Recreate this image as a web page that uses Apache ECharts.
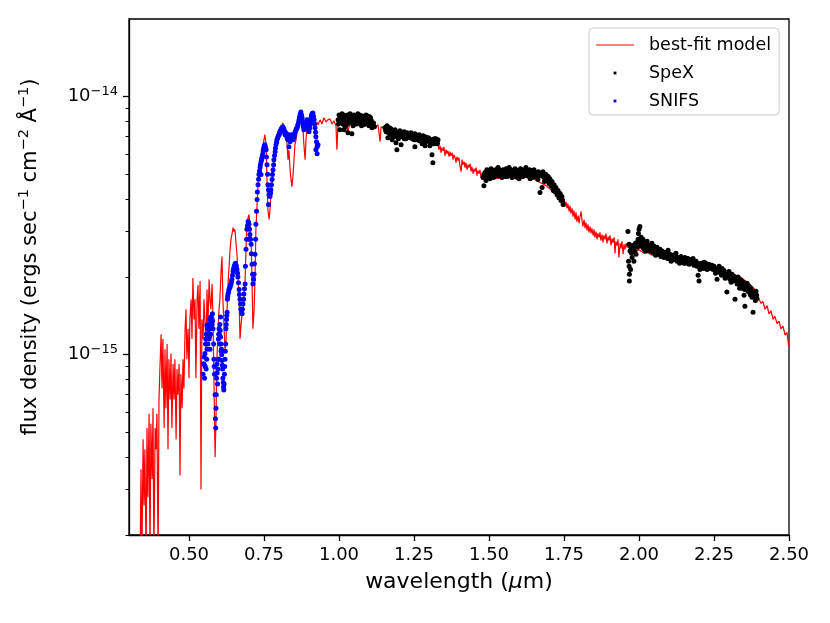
<!DOCTYPE html>
<html style="height: 100%">
<head>
<meta charset="utf-8">
<script src="https://cdn.jsdelivr.net/npm/echarts@6/dist/echarts.min.js"></script>
</head>
<body style="height: 100%; margin: 0; background: #fff">
<div id="container" style="width: 830px; height: 623px"></div>
<script type="text/javascript">
// wavelength (um), flux density in units of 1e-15 ergs/s/cm2/A
var modelData = [
  [0.337,0.16],[0.340,0.36],[0.343,0.16],[0.347,0.47],[0.350,0.26],[0.353,0.43],[0.357,0.16],[0.360,0.52],[0.363,0.28],[0.367,0.59],
  [0.370,0.16],[0.373,0.54],[0.377,0.33],[0.380,0.62],[0.383,0.16],[0.387,0.52],[0.390,0.43],[0.393,0.59],[0.397,0.16],[0.400,0.67],
  [0.403,0.88],[0.407,1.20],[0.410,0.74],[0.413,1.15],[0.417,0.52],[0.420,1.05],[0.423,0.62],[0.427,1.10],[0.430,0.43],[0.433,0.96],
  [0.437,0.67],[0.440,1.01],[0.443,0.52],[0.447,0.92],[0.450,0.67],[0.453,0.96],[0.457,0.47],[0.460,0.88],[0.463,0.70],[0.467,0.92],
  [0.470,0.34],[0.473,0.84],[0.477,0.62],[0.480,0.96],[0.483,0.74],[0.487,1.26],[0.490,1.50],[0.493,0.96],[0.497,1.26],[0.500,0.81],
  [0.503,1.37],[0.507,1.64],[0.510,1.15],[0.513,1.98],[0.517,1.37],[0.520,1.64],[0.523,0.81],[0.527,1.64],[0.530,1.86],[0.533,1.26],
  [0.537,1.93],[0.540,0.30],[0.543,1.37],[0.547,1.15],[0.550,1.64],[0.553,1.37],[0.557,1.05],[0.560,1.79],[0.563,1.26],[0.567,1.96],
  [0.570,1.64],[0.573,1.50],[0.577,1.88],[0.580,1.37],[0.583,0.81],[0.587,0.40],[0.590,0.565],[0.593,0.96],[0.597,1.26],[0.600,1.50],
  [0.603,1.64],[0.607,2.14],[0.610,2.40],[0.613,1.64],[0.617,1.26],[0.620,1.05],[0.623,1.10],[0.627,1.50],[0.630,1.88],[0.633,2.14],
  [0.637,2.56],[0.640,2.80],[0.643,2.92],[0.647,3.11],[0.650,3.00],[0.653,3.06],[0.657,2.68],[0.660,2.45],[0.663,2.05],[0.667,1.64],
  [0.670,1.15],[0.673,1.29],[0.677,1.44],[0.680,1.50],[0.683,1.64],[0.687,1.96],[0.690,2.56],[0.693,3.20],[0.697,3.40],[0.700,3.49],
  [0.703,3.20],[0.707,2.80],[0.710,1.96],[0.713,1.26],[0.717,1.50],[0.720,1.96],[0.723,3.06],[0.727,3.82],[0.730,4.56],[0.733,4.99],
  [0.737,5.31],[0.740,5.70],[0.743,6.12],[0.747,6.51],[0.750,6.81],[0.753,7.12],[0.757,6.51],[0.760,4.77],[0.763,3.65],[0.767,3.34],
  [0.770,3.65],[0.773,4.17],[0.777,4.56],[0.780,4.99],[0.783,5.45],[0.787,5.96],[0.790,6.39],[0.793,6.81],[0.797,7.12],[0.800,6.93],
  [0.803,7.44],[0.807,7.58],[0.810,7.71],[0.813,7.91],[0.817,7.78],[0.820,7.12],[0.823,7.44],[0.827,6.51],[0.830,5.70],[0.833,6.23],
  [0.837,5.21],[0.840,4.77],[0.843,4.48],[0.847,4.99],[0.850,5.70],[0.853,6.51],[0.857,6.81],[0.860,7.31],[0.863,7.58],[0.867,7.78],
  [0.870,8.13],[0.873,8.28],[0.877,7.98],[0.880,7.44],[0.883,6.51],[0.887,5.70],[0.890,6.81],[0.893,7.58],[0.897,7.98],[0.900,7.44],
  [0.903,7.78],[0.907,8.13],[0.910,8.28],[0.913,7.98],[0.917,7.71],[0.920,7.12],[0.923,7.58],[0.927,7.98],[0.930,7.78],[0.937,8.13],
  [0.943,7.84],[0.950,8.28],[0.957,7.98],[0.963,8.13],[0.970,8.20],[0.977,7.84],[0.983,8.06],[0.990,7.71],[0.993,6.23],[0.997,7.98],
  [1.003,8.13],[1.010,7.84],[1.017,7.58],[1.023,8.13],[1.030,7.31],[1.037,7.98],[1.043,8.20],[1.050,7.91],[1.057,7.71],[1.063,8.06],
  [1.070,7.84],[1.077,7.98],[1.083,7.64],[1.090,7.91],[1.097,7.78],[1.103,7.98],[1.110,7.71],[1.117,7.84],[1.123,7.64],[1.130,7.78],
  [1.137,6.69],[1.140,7.64],[1.150,7.58],[1.160,7.44],[1.170,7.38],[1.180,7.51],[1.190,7.31],[1.200,7.24],[1.210,7.38],[1.220,7.12],
  [1.230,7.24],[1.240,7.05],[1.250,7.12],[1.260,6.99],[1.270,6.93],[1.280,6.99],[1.290,6.87],[1.300,6.81],[1.310,6.87],[1.320,6.63],
  [1.330,6.51],[1.333,6.23],[1.337,6.45],[1.340,6.06],[1.343,6.34],[1.347,6.17],[1.350,6.39],[1.353,5.90],[1.357,6.23],[1.360,6.01],
  [1.363,6.17],[1.367,5.85],[1.370,6.12],[1.373,5.90],[1.377,6.06],[1.380,5.70],[1.383,5.96],[1.387,5.80],[1.390,5.55],[1.393,5.85],
  [1.397,5.65],[1.400,5.80],[1.403,5.40],[1.407,5.12],[1.410,5.70],[1.413,5.45],[1.417,5.60],[1.420,5.31],[1.423,5.55],[1.427,5.21],
  [1.430,5.45],[1.433,5.31],[1.437,5.50],[1.440,5.12],[1.443,5.35],[1.447,5.03],[1.450,5.26],[1.453,5.12],[1.457,5.31],[1.460,4.94],
  [1.463,5.17],[1.467,5.03],[1.470,5.21],[1.473,4.86],[1.477,5.08],[1.480,4.94],
  [1.490,4.94],[1.503,4.86],[1.517,4.90],[1.530,4.81],[1.543,4.94],
  [1.557,4.86],[1.570,4.90],[1.583,4.81],[1.597,4.86],[1.610,4.81],[1.623,4.90],[1.637,4.77],[1.650,4.81],[1.663,4.69],[1.677,4.61],
  [1.690,4.52],[1.703,4.40],[1.713,4.25],[1.723,4.17],[1.733,4.06],[1.743,3.92],
  [1.747,3.89],[1.750,4.03],[1.753,3.75],[1.757,3.92],[1.760,3.69],[1.763,3.85],[1.767,3.59],[1.770,3.78],[1.773,3.53],[1.777,3.69],
  [1.780,3.43],[1.783,3.62],[1.787,3.34],[1.790,3.56],[1.793,3.28],[1.797,3.46],[1.800,3.23],[1.803,3.40],[1.807,3.59],[1.810,3.31],
  [1.813,3.14],[1.817,3.34],[1.820,3.09],[1.823,3.25],[1.827,3.03],[1.830,3.20],[1.833,2.98],[1.837,3.14],[1.840,2.95],[1.843,3.09],
  [1.847,2.90],[1.850,3.06],[1.853,2.85],[1.857,3.00],[1.860,2.80],[1.863,2.95],[1.867,2.85],[1.870,2.98],[1.873,2.77],[1.877,2.92],
  [1.880,2.72],[1.883,2.90],[1.887,2.80],[1.890,2.95],[1.893,2.70],[1.897,2.87],[1.900,2.77],[1.903,2.90],[1.907,2.65],[1.910,2.82],
  [1.913,2.72],[1.917,2.85],[1.920,2.47],[1.923,2.75],[1.927,2.65],[1.930,2.80],[1.933,2.38],[1.937,2.70],[1.940,2.58],[1.943,2.75],
  [1.947,2.45],[1.950,2.68],[1.953,2.56],[1.957,2.70],[1.960,2.61],[1.963,2.65],
  [1.970,2.61],[1.977,2.52],[1.983,2.56],
  [1.990,2.47],[1.997,2.56],[2.003,2.52],[2.017,2.47],[2.030,2.49],[2.043,2.43],[2.057,2.45],[2.070,2.40],[2.083,2.43],[2.097,2.36],
  [2.110,2.38],[2.123,2.32],[2.137,2.34],[2.150,2.30],[2.163,2.30],[2.177,2.28],[2.190,2.28],[2.203,2.24],[2.217,2.26],[2.230,2.22],
  [2.243,2.20],[2.257,2.18],[2.270,2.18],[2.283,2.14],[2.297,2.10],[2.310,2.07],[2.323,2.03],[2.337,2.00],[2.350,1.95],[2.363,1.90],
  [2.377,1.84],[2.390,1.77],[2.400,1.64],[2.407,1.58],[2.413,1.61],[2.420,1.50],[2.427,1.55],[2.433,1.44],[2.440,1.48],[2.447,1.37],
  [2.453,1.41],[2.460,1.32],[2.467,1.35],[2.473,1.26],[2.480,1.29],[2.487,1.19],[2.493,1.22],[2.499,1.08]
];

var spexData = [
  // 1.0 - 1.12 um
  [0.997,8.13],[1.000,8.50],[1.002,8.06],[1.003,7.44],[1.007,8.28],[1.010,8.58],[1.012,8.13],[1.013,7.84],[1.017,8.20],[1.017,7.44],
  [1.020,7.64],[1.022,7.98],[1.023,8.42],[1.027,8.06],[1.030,7.24],[1.032,8.13],[1.033,8.35],[1.037,8.58],[1.040,7.91],[1.042,8.42],
  [1.043,8.28],[1.043,7.18],[1.047,7.71],[1.050,8.50],[1.052,7.84],[1.053,8.13],[1.057,8.35],[1.060,7.84],[1.062,8.06],[1.063,8.58],
  [1.067,8.20],[1.070,7.98],[1.072,8.28],[1.073,8.42],[1.077,8.06],[1.080,7.78],[1.082,8.13],[1.083,8.35],[1.087,8.20],[1.090,8.50],
  [1.092,7.84],[1.093,7.98],[1.097,8.28],[1.100,7.71],[1.102,8.35],[1.103,8.06],[1.107,7.84],[1.108,8.06],[1.110,7.58],
  [0.998,7.84],[1.005,8.42],[1.008,7.98],[1.015,8.50],[1.018,7.98],[1.025,7.78],[1.028,8.50],[1.035,7.98],[1.038,8.20],[1.045,7.98],
  [1.048,8.42],[1.055,7.91],[1.058,8.13],[1.065,7.91],[1.068,8.50],[1.075,7.71],[1.078,8.42],[1.085,7.84],[1.088,7.91],[1.095,8.42],
  [1.098,7.98],[1.105,8.28],[1.112,7.78],[1.115,7.91],[1.118,7.64],
  // 1.15 - 1.33 um
  [1.153,7.58],[1.157,7.31],[1.160,7.71],[1.163,6.93],[1.167,7.44],[1.170,7.18],[1.173,7.51],[1.177,6.81],[1.180,7.38],[1.183,7.12],
  [1.187,7.44],[1.190,6.63],[1.193,6.23],[1.197,7.24],[1.200,7.05],[1.203,7.38],[1.207,6.51],[1.210,7.18],[1.213,6.99],[1.217,7.31],
  [1.220,7.12],[1.223,6.87],[1.227,7.24],[1.230,7.05],[1.233,7.18],[1.237,6.93],[1.240,7.24],[1.243,6.99],[1.247,7.12],[1.250,6.81],
  [1.253,7.18],[1.253,6.39],[1.257,6.93],[1.260,7.05],[1.263,6.87],[1.267,7.12],[1.270,6.75],[1.273,6.99],[1.277,6.57],[1.280,7.05],
  [1.283,6.81],[1.287,6.99],[1.287,6.45],[1.290,6.69],[1.293,6.93],[1.297,6.75],[1.300,6.87],[1.303,6.45],[1.307,6.81],[1.310,5.96],
  [1.313,5.55],[1.313,6.81],[1.317,6.75],[1.320,6.57],[1.323,6.87],[1.327,6.63],[1.330,6.81],
  [1.155,7.44],[1.158,7.64],[1.165,7.24],[1.168,7.58],[1.175,7.31],[1.178,7.05],[1.185,7.31],[1.188,6.99],[1.195,7.12],[1.198,6.87],
  [1.205,7.24],[1.208,6.99],[1.215,7.12],[1.218,6.87],[1.225,7.05],[1.228,7.12],[1.235,6.99],[1.238,7.12],[1.245,6.87],[1.248,6.99],
  [1.255,6.81],[1.258,7.05],[1.265,6.93],[1.268,6.75],[1.275,6.87],[1.278,6.99],[1.285,6.69],[1.288,6.87],[1.295,6.75],[1.298,6.93],
  [1.305,6.63],[1.308,6.69],[1.315,6.57],[1.318,6.87],[1.325,6.75],[1.328,6.57],
  // 1.48 - 1.75 um
  [1.480,4.86],[1.483,4.52],[1.487,5.08],[1.490,4.73],[1.493,5.21],[1.497,4.94],[1.500,5.12],[1.503,4.81],[1.507,5.26],[1.510,4.99],
  [1.517,5.17],[1.520,4.90],[1.523,5.08],[1.530,5.31],[1.533,4.94],[1.537,5.12],[1.543,4.86],[1.547,5.21],[1.550,5.03],[1.557,5.26],
  [1.560,4.90],[1.563,5.12],[1.570,4.99],[1.573,5.21],[1.577,4.86],[1.583,5.08],[1.587,5.26],[1.590,4.94],[1.597,5.17],[1.600,4.81],
  [1.603,5.03],[1.610,5.21],[1.613,4.90],[1.617,5.08],[1.623,5.31],[1.627,4.94],[1.630,5.12],[1.637,4.81],[1.640,5.17],[1.643,4.99],
  [1.650,5.21],[1.653,4.90],[1.657,5.08],[1.663,4.77],[1.667,5.03],[1.670,4.25],[1.673,4.94],[1.677,4.45],[1.680,5.12],[1.683,4.86],
  [1.690,4.99],[1.693,4.73],[1.697,4.90],[1.700,4.61],[1.703,4.81],[1.707,4.52],[1.710,4.69],[1.713,4.40],[1.717,4.56],[1.720,4.29],
  [1.723,4.45],[1.727,4.17],[1.730,4.33],[1.733,4.06],[1.737,4.21],[1.740,3.96],[1.743,4.10],[1.747,3.82],
  [1.485,4.99],[1.492,4.86],[1.495,5.03],[1.502,4.99],[1.505,4.90],[1.512,5.12],[1.515,4.86],[1.522,5.21],[1.525,4.94],[1.527,5.03],
  [1.535,5.21],[1.540,4.99],[1.545,5.08],[1.552,4.90],[1.555,5.12],[1.565,4.94],[1.567,5.31],[1.575,5.03],[1.580,4.94],[1.585,5.17],
  [1.592,5.08],[1.595,4.86],[1.605,5.26],[1.607,4.94],[1.615,5.17],[1.620,5.03],[1.625,5.12],[1.632,4.99],[1.635,5.21],[1.645,4.86],
  [1.647,5.12],[1.655,5.03],[1.660,4.94],[1.665,5.12],[1.675,5.03],[1.685,4.69],[1.688,4.90],[1.695,4.81],[1.705,4.69],[1.712,4.56],
  [1.715,4.33],[1.725,4.29],[1.735,4.17],[1.742,4.01],[1.745,3.96],
  // 1.96 - 2.39 um
  [1.963,3.00],[1.965,2.30],[1.967,2.68],[1.967,2.20],[1.968,1.93],[1.968,2.05],[1.970,2.52],[1.972,2.14],[1.973,2.61],[1.977,2.38],
  [1.980,2.56],[1.983,2.30],[1.987,2.63],[1.990,2.45],[1.993,2.72],[1.997,2.80],[2.000,3.06],[2.003,3.14],[2.007,2.85],[2.010,2.68],
  [2.013,2.80],[2.017,2.56],[2.020,2.70],[2.023,2.61],[2.027,2.75],[2.030,2.54],[2.033,2.65],[2.037,2.58],[2.043,2.70],[2.047,2.49],
  [2.050,2.63],[2.057,2.47],[2.060,2.61],[2.063,2.45],[2.070,2.56],[2.073,2.40],[2.077,2.52],[2.083,2.38],[2.087,2.49],[2.090,2.43],
  [2.097,2.54],[2.100,2.36],[2.103,2.45],[2.110,2.32],[2.113,2.43],[2.117,2.36],[2.123,2.47],[2.127,2.30],[2.130,2.38],[2.137,2.28],
  [2.140,2.40],[2.143,2.32],[2.150,2.26],[2.153,2.38],[2.157,2.30],[2.163,2.36],[2.167,2.24],[2.170,2.32],[2.177,2.28],[2.180,2.36],
  [2.183,2.22],[2.190,2.30],[2.193,2.20],[2.197,2.03],[2.200,1.93],[2.203,2.14],[2.207,2.26],[2.210,2.18],[2.217,2.28],[2.220,2.20],
  [2.223,2.26],[2.230,2.16],[2.233,2.24],[2.237,2.18],[2.243,2.22],[2.247,2.14],[2.250,2.20],[2.257,2.10],[2.260,1.96],[2.263,2.12],
  [2.267,2.20],[2.270,2.08],[2.277,2.16],[2.280,2.05],[2.283,2.12],[2.290,2.03],[2.293,1.75],[2.297,2.00],[2.300,2.10],[2.303,1.96],
  [2.310,2.05],[2.313,1.93],[2.317,2.01],[2.320,1.64],[2.323,1.96],[2.327,1.88],[2.330,2.00],[2.337,1.86],[2.340,1.95],[2.343,1.81],
  [2.347,1.91],[2.350,1.70],[2.353,1.54],[2.357,1.83],[2.360,1.89],[2.363,1.76],[2.367,1.84],[2.370,1.73],[2.373,1.81],[2.377,1.67],
  [2.380,1.46],[2.383,1.75],[2.387,1.69],[2.390,1.76],[2.393,1.65],
  [1.975,2.47],[1.978,2.65],[1.985,2.52],[1.988,2.70],[1.995,2.61],[1.998,2.95],[2.002,2.75],[2.005,2.65],[2.012,2.61],[2.015,2.72],
  [2.022,2.52],[2.025,2.68],[2.032,2.61],[2.035,2.52],[2.040,2.63],[2.045,2.56],[2.053,2.56],[2.055,2.43],[2.065,2.54],[2.067,2.47],
  [2.075,2.45],[2.080,2.47],[2.085,2.40],[2.093,2.47],[2.095,2.36],[2.105,2.38],[2.107,2.30],[2.115,2.40],[2.120,2.34],[2.125,2.38],
  [2.133,2.34],[2.135,2.26],[2.145,2.36],[2.147,2.28],[2.155,2.26],[2.160,2.32],[2.165,2.30],[2.173,2.26],[2.175,2.34],[2.185,2.28],
  [2.187,2.24],[2.195,2.26],[2.205,2.20],[2.213,2.24],[2.215,2.16],[2.225,2.20],[2.227,2.14],[2.235,2.22],[2.240,2.16],[2.245,2.18],
  [2.253,2.16],[2.255,2.07],[2.265,2.14],[2.272,2.12],[2.275,2.03],[2.285,2.07],[2.287,1.98],[2.295,2.05],[2.305,2.01],[2.307,1.91],
  [2.315,1.96],[2.325,1.93],[2.333,1.93],[2.335,1.81],[2.345,1.86],[2.352,1.79],[2.355,1.88],[2.365,1.81],[2.372,1.70],[2.375,1.77],
  [2.385,1.73],[2.388,1.62],[2.392,1.70]
];

var snifsData = [
  [0.547,0.84],[0.550,0.92],[0.552,0.81],[0.553,1.01],[0.555,1.10],[0.557,0.88],[0.558,1.20],[0.560,1.05],[0.560,1.30],[0.562,1.26],
  [0.563,1.10],[0.565,1.31],[0.567,1.15],[0.568,1.26],[0.570,1.37],[0.570,1.05],[0.572,1.20],[0.573,1.40],[0.577,1.31],[0.578,1.44],
  [0.580,1.26],[0.582,1.10],[0.583,0.96],[0.585,0.84],[0.587,0.70],[0.588,0.565],[0.589,0.52],[0.590,0.62],[0.592,0.81],[0.593,0.92],
  [0.595,0.77],[0.597,0.96],[0.598,1.15],[0.600,1.26],[0.600,0.96],[0.602,1.10],[0.603,1.31],[0.605,1.17],[0.605,1.40],[0.607,1.03],
  [0.608,1.05],[0.610,0.95],[0.612,0.88],[0.613,0.81],[0.615,0.75],[0.617,0.77],[0.618,0.84],[0.620,0.96],[0.622,1.10],[0.623,1.26],
  [0.625,1.37],[0.627,1.46],[0.628,1.64],[0.630,1.72],[0.633,1.79],[0.637,1.83],[0.640,1.88],[0.643,1.96],[0.647,2.10],[0.650,2.18],
  [0.653,2.24],[0.657,2.22],[0.660,2.14],[0.663,2.00],[0.667,1.79],[0.670,1.64],[0.673,1.50],[0.677,1.44],[0.680,1.57],[0.683,1.72],
  [0.687,1.88],[0.690,2.56],[0.693,3.06],[0.697,3.28],[0.700,3.20],[0.700,2.80],[0.703,2.92],[0.707,2.68],[0.710,2.24],[0.713,1.88],
  [0.717,2.05],[0.720,2.45],[0.723,3.20],[0.727,3.99],[0.730,4.56],[0.733,4.99],[0.737,5.31],[0.740,5.60],[0.740,4.99],[0.743,5.80],
  [0.747,6.12],[0.750,6.39],[0.753,6.51],[0.757,6.23],[0.760,5.45],[0.763,4.56],[0.765,3.82],[0.767,4.17],[0.770,4.10],[0.773,4.36],
  [0.777,4.77],[0.780,5.21],[0.783,5.70],[0.787,6.12],[0.790,6.51],[0.793,6.81],[0.797,6.99],[0.800,7.12],[0.803,7.31],[0.807,7.44],
  [0.810,7.58],[0.813,7.64],[0.817,7.44],[0.820,7.12],[0.823,7.24],[0.827,6.93],[0.830,6.81],[0.833,7.12],[0.833,6.39],[0.837,6.68],
  [0.840,6.93],[0.843,7.12],[0.847,6.81],[0.850,6.99],[0.853,7.24],[0.857,7.44],[0.860,7.58],[0.863,7.78],[0.867,8.13],[0.870,8.50],
  [0.873,8.73],[0.877,8.28],[0.880,7.78],[0.883,7.44],[0.887,7.58],[0.890,7.84],[0.893,8.13],[0.897,7.71],[0.900,7.31],[0.903,7.78],
  [0.907,8.28],[0.910,8.58],[0.913,8.65],[0.917,8.13],[0.920,7.58],[0.923,6.99],[0.923,6.23],[0.927,6.39],[0.927,6.01],[0.930,6.51],
  [0.548,0.92],[0.551,0.98],[0.554,0.90],[0.556,1.15],[0.559,0.96],[0.563,1.20],[0.566,1.21],[0.569,1.18],[0.571,1.31],[0.574,1.26],
  [0.576,1.38],[0.579,1.35],[0.584,0.90],[0.591,0.70],[0.594,0.85],[0.596,0.88],[0.599,1.20],[0.601,1.20],[0.604,1.24],[0.606,1.10],
  [0.609,1.00],[0.611,0.91],[0.614,0.78],[0.616,0.73],[0.619,0.90],[0.621,1.03],[0.624,1.31],[0.626,1.42],[0.629,1.68],[0.632,1.75],
  [0.635,1.81],[0.638,1.86],[0.642,1.92],[0.645,2.03],[0.648,2.14],[0.652,2.21],[0.655,2.26],[0.658,2.18],[0.662,2.07],[0.665,1.90],
  [0.668,1.71],[0.672,1.57],[0.675,1.47],[0.678,1.50],[0.682,1.64],[0.685,1.80],[0.688,2.20],[0.692,2.80],[0.695,3.17],[0.698,3.24],
  [0.702,3.06],[0.705,2.80],[0.708,2.46],[0.712,2.05],[0.715,1.96],[0.718,2.25],[0.722,2.80],[0.725,3.60],[0.728,4.27],[0.732,4.78],
  [0.735,5.15],[0.738,5.45],[0.742,5.70],[0.745,5.96],[0.748,6.25],[0.752,6.45],[0.755,6.37],[0.758,5.84],[0.762,5.00],[0.765,4.36],
  [0.768,4.13],[0.772,4.23],[0.775,4.56],[0.778,4.99],[0.782,5.45],[0.785,5.91],[0.788,6.31],[0.792,6.66],[0.795,6.90],[0.798,7.05],
  [0.802,7.21],[0.805,7.38],[0.808,7.51],[0.812,7.61],[0.815,7.54],[0.818,7.28],[0.822,7.18],[0.825,7.08],[0.828,6.87],[0.832,6.96],
  [0.835,6.90],[0.838,6.80],[0.842,7.02],[0.845,6.96],[0.848,6.90],[0.852,7.12],[0.855,7.34],[0.858,7.51],[0.862,7.68],[0.865,7.95],
  [0.868,8.31],[0.872,8.61],[0.875,8.50],[0.878,8.03],[0.882,7.61],[0.885,7.51],[0.888,7.71],[0.892,7.98],[0.895,7.92],[0.898,7.51],
  [0.902,7.54],[0.905,8.03],[0.908,8.43],[0.912,8.61],[0.915,8.39],[0.918,7.85],[0.922,7.28],[0.925,6.69],[0.928,6.45]
];

var xTicks = [0.5, 0.75, 1.0, 1.25, 1.5, 1.75, 2.0, 2.25, 2.5];
var yMajorTicks = [1e-15, 1e-14];
var yMinorTicks = [2e-16, 3e-16, 4e-16, 5e-16, 6e-16, 7e-16, 8e-16, 9e-16,
                   2e-15, 3e-15, 4e-15, 5e-15, 6e-15, 7e-15, 8e-15, 9e-15];
var FLUX_UNIT = 1e-15;

function toFlux(arr) {
    return arr.map(function (p) { return [p[0], p[1] * FLUX_UNIT]; });
}

var FONT = 'DejaVu Sans';
var DOT_ICON = 'path://M0,0M38,14M17.6,5.6H20.4V8.4H17.6Z';
var LINE_ICON = 'path://M0,0M38,14M0,6.5H38V7.5H0Z';
var myChart = echarts.init(document.getElementById('container'), null, {renderer: 'canvas'});

var option = {
    animation: false,
    backgroundColor: '#fff',
    grid: {
        left: 129, right: 41, top: 19, bottom: 88,
        show: true, borderColor: '#000', borderWidth: 1.3, backgroundColor: 'transparent'
    },
    legend: {
        left: 589, top: 28,
        orient: 'vertical',
        selectedMode: false,
        itemWidth: 38, itemHeight: 14, itemGap: 10,
        padding: [8, 8, 5, 7],
        borderColor: '#cccccc', borderWidth: 1, borderRadius: 4,
        backgroundColor: 'rgba(255,255,255,0.8)',
        textStyle: {fontFamily: FONT, fontSize: 17.5, color: '#000', padding: [0, 0, 0, 10]},
        data: [
            {name: 'best-fit model', icon: LINE_ICON},
            {name: 'SpeX', icon: DOT_ICON},
            {name: 'SNIFS', icon: DOT_ICON}
        ]
    },
    xAxis: {
        type: 'value',
        min: 0.3, max: 2.5,
        name: 'wavelength ({i|μ}m)',
        nameLocation: 'middle',
        nameGap: 36,
        nameTextStyle: {
            fontFamily: FONT, fontSize: 22, color: '#000',
            rich: {i: {fontFamily: FONT, fontSize: 22, fontStyle: 'italic', color: '#000'}}
        },
        splitLine: {show: false},
        axisLine: {lineStyle: {color: '#000', width: 1.3}},
        axisTick: {customValues: xTicks, length: 6, lineStyle: {color: '#000', width: 1.3}},
        axisLabel: {
            customValues: xTicks,
            margin: 11,
            fontFamily: FONT, fontSize: 18, color: '#000',
            formatter: function (v) { return v.toFixed(2); }
        }
    },
    yAxis: [{
        type: 'log',
        min: 2e-16, max: 2e-14,
        name: 'flux density (ergs sec{s|−1} cm{s|−2} Å{s|−1})',
        nameLocation: 'middle',
        nameRotate: 90,
        nameGap: 85,
        nameTextStyle: {
            fontFamily: FONT, fontSize: 21, color: '#000', lineHeight: 27,
            padding: [0, 0, 0, 40],
            rich: {s: {fontFamily: FONT, fontSize: 14.5, lineHeight: 8, verticalAlign: 'top', color: '#000'}}
        },
        splitLine: {show: false},
        axisLine: {lineStyle: {color: '#000', width: 1.3}},
        axisTick: {customValues: yMajorTicks, length: 6, lineStyle: {color: '#000', width: 1.3}},
        axisLabel: {
            customValues: yMajorTicks,
            margin: 11,
            fontFamily: FONT, fontSize: 18, color: '#000', lineHeight: 24,
            formatter: function (v) {
                var e = Math.round(Math.log10(v));
                return '10{s|−' + Math.abs(e) + '}';
            },
            rich: {s: {fontFamily: FONT, fontSize: 13, lineHeight: 8, verticalAlign: 'top', color: '#000'}}
        }
    }, {
        // minor ticks of the log axis
        type: 'log',
        min: 2e-16, max: 2e-14,
        position: 'left',
        splitLine: {show: false},
        axisLine: {show: false},
        axisLabel: {show: false},
        axisTick: {customValues: yMinorTicks, length: 3.5, lineStyle: {color: '#000', width: 1}}
    }],
    series: [{
        name: 'best-fit model',
        type: 'line',
        data: toFlux(modelData),
        symbol: 'none',
        showSymbol: false,
        color: '#ff0000',
        lineStyle: {color: '#ff0000', width: 1.2},
        z: 2
    }, {
        name: 'SpeX',
        type: 'scatter',
        data: toFlux(spexData),
        symbol: 'circle',
        symbolSize: 5,
        itemStyle: {color: '#000', opacity: 1},
        z: 3
    }, {
        name: 'SNIFS',
        type: 'scatter',
        data: toFlux(snifsData),
        symbol: 'circle',
        symbolSize: 5,
        itemStyle: {color: '#0000ff', opacity: 1},
        z: 4
    }]
};

if (option && typeof option === 'object') {
    myChart.setOption(option, true);
}
</script>
</body>
</html>
